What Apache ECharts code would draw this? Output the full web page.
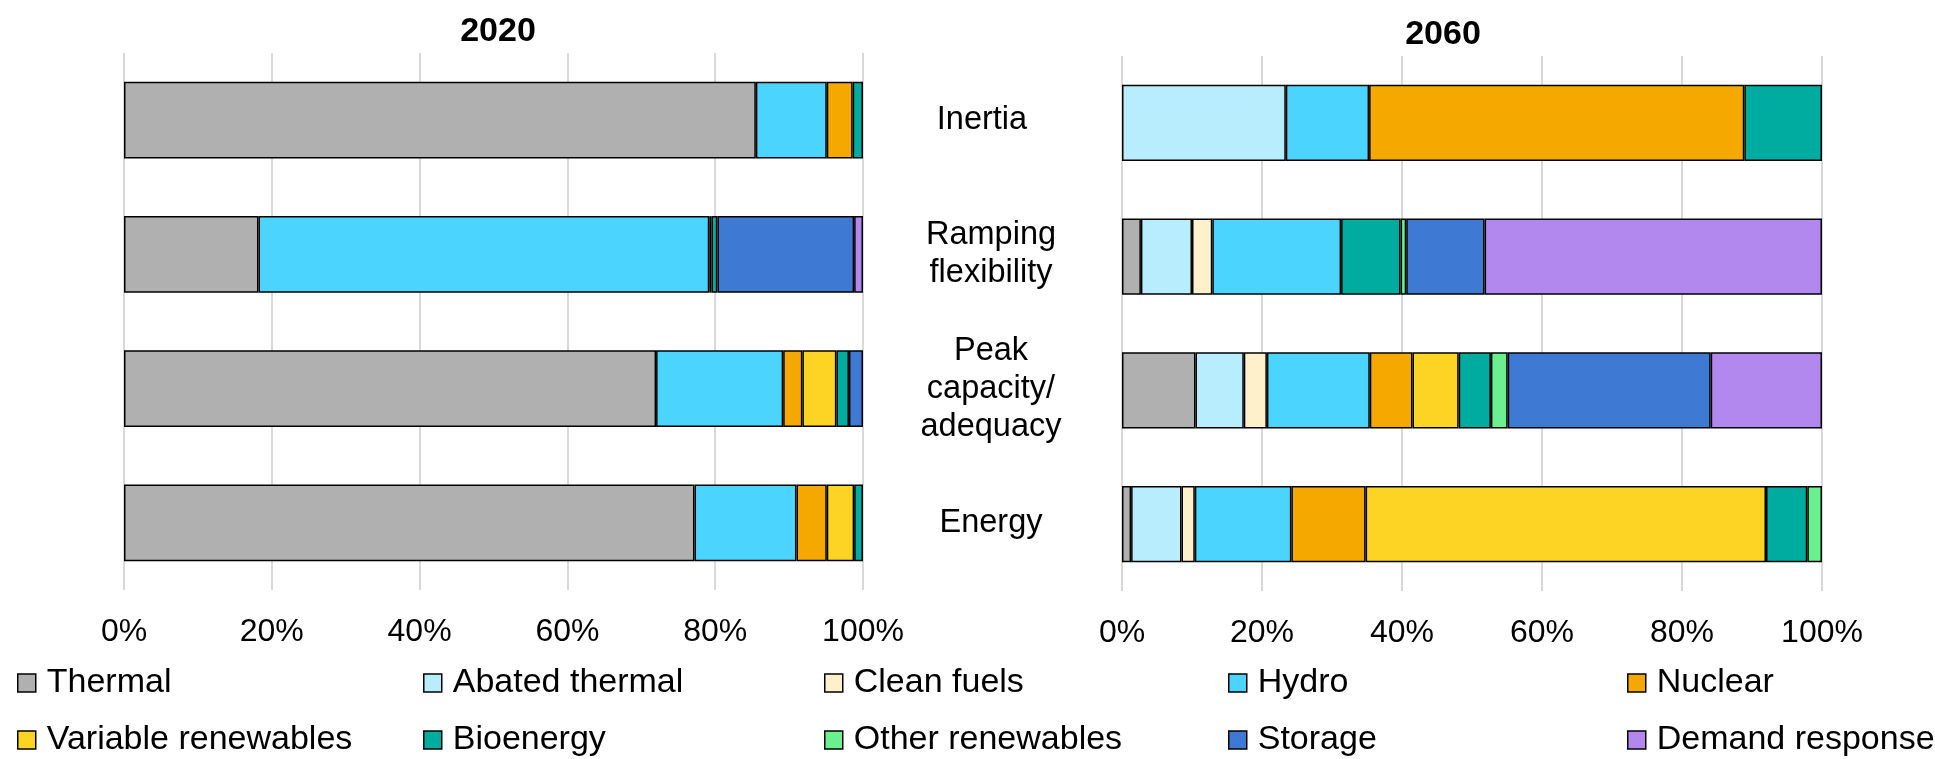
<!DOCTYPE html>
<html>
<head>
<meta charset="utf-8">
<title>Contribution of resources to system services, 2020 and 2060</title>
<script src="https://cdn.jsdelivr.net/npm/echarts@6/dist/echarts.min.js"></script>
<style>
  html, body { margin: 0; padding: 0; background: #ffffff; }
  #chart { width: 1935px; height: 759px; }
</style>
</head>
<body>
<div id="chart"></div>
<script>
// System services (rows), top to bottom
const services = ['Inertia  ', 'Ramping\nflexibility', 'Peak\ncapacity/\nadequacy', 'Energy'];

// Resource types in stacking order
const resources = ['Thermal', 'Abated thermal', 'Clean fuels', 'Hydro', 'Nuclear',
  'Variable renewables', 'Bioenergy', 'Other renewables', 'Storage', 'Demand response'];

const resourceColors = ['#b0b0b0', '#b8edfe', '#fff0cc', '#4bd4fe', '#f5a900',
  '#fdd424', '#00ac9f', '#6bf08f', '#3e7ad4', '#b388ee'];

// Shares (%) per service, order: Inertia, Ramping, Peak, Energy
const thermal2020      = [85.5, 18.2, 72.0, 77.2];
const abated2020       = [null, null, null, null];
const cleanFuels2020   = [null, null, null, null];
const hydro2020        = [9.6, 61.0, 17.2, 13.8];
const nuclear2020      = [3.5, 0.3, 2.6, 4.1];
const variableRe2020   = [null, null, 4.6, 3.7];
const bioenergy2020    = [1.4, 0.8, 1.7, 1.2];
const otherRe2020      = [null, null, null, null];
const storage2020      = [null, 18.5, 1.9, null];
const demandResp2020   = [null, 1.2, null, null];

const thermal2060      = [null, 2.7, 10.5, 1.3];
const abated2060       = [23.4, 7.3, 6.9, 7.2];
const cleanFuels2060   = [null, 2.9, 3.3, 1.9];
const hydro2060        = [11.9, 18.4, 14.7, 13.8];
const nuclear2060      = [53.6, null, 6.1, 10.6];
const variableRe2060   = [null, null, 6.6, 57.2];
const bioenergy2060    = [11.1, 8.5, 4.6, 5.9];
const otherRe2060      = [null, 0.8, 2.4, 2.1];
const storage2060      = [null, 11.2, 29.0, null];
const demandResp2060   = [null, 48.2, 15.9, null];

// Percentage axis ticks
const percentTicks = [0, 20, 40, 60, 80, 100];

const data2020 = [thermal2020, abated2020, cleanFuels2020, hydro2020, nuclear2020,
  variableRe2020, bioenergy2020, otherRe2020, storage2020, demandResp2020];
const data2060 = [thermal2060, abated2060, cleanFuels2060, hydro2060, nuclear2060,
  variableRe2060, bioenergy2060, otherRe2060, storage2060, demandResp2060];

const FONT = "'Liberation Sans', Arial, Helvetica, sans-serif";

function valueAxis(gridIndex) {
  return {
    type: 'value', gridIndex: gridIndex,
    min: percentTicks[0], max: percentTicks[percentTicks.length - 1],
    interval: percentTicks[1] - percentTicks[0],
    axisLine: { show: false }, axisTick: { show: false },
    splitLine: { show: true, lineStyle: { color: '#d9d9d9', width: 2 } },
    axisLabel: { formatter: '{value}%', fontFamily: FONT, fontSize: 32, color: '#000', margin: 26 }
  };
}

function buildSeries(values, stack, axisIndex) {
  return resources.map((name, i) => ({
    name: name,
    type: 'bar',
    stack: stack,
    xAxisIndex: axisIndex,
    yAxisIndex: axisIndex,
    barCategoryGap: '43%',
    data: values[i],
    itemStyle: { color: resourceColors[i], borderColor: '#000', borderWidth: 1.5 },
    emphasis: { disabled: true }
  }));
}

// Legend laid out on a 5-column, 2-row grid
const legendCols = [17, 423, 824, 1228, 1627];
const legendRows = [666, 723];
const legends = resources.map((name, i) => ({
  data: [name],
  left: legendCols[i % 5],
  top: legendRows[Math.floor(i / 5)],
  padding: 0,
  itemWidth: 18,
  itemHeight: 18,
  icon: 'rect',
  selectedMode: false,
  itemStyle: { borderColor: '#000', borderWidth: 1.5 },
  textStyle: { fontFamily: FONT, fontSize: 34, color: '#000', padding: [0, 0, 0, 6] }
}));

const chart = echarts.init(document.getElementById('chart'), null, { renderer: 'canvas' });
chart.setOption({
  animation: false,
  backgroundColor: '#ffffff',
  title: [
    { text: '2020', left: 493, top: 10, textAlign: 'center',
      textStyle: { fontFamily: FONT, fontSize: 34, fontWeight: 'bold', color: '#000' } },
    { text: '2060', left: 1438, top: 13, textAlign: 'center',
      textStyle: { fontFamily: FONT, fontSize: 34, fontWeight: 'bold', color: '#000' } }
  ],
  legend: legends,
  grid: [
    { left: 124, right: 1935 - 863, top: 53, height: 537 },
    { left: 1122, right: 1935 - 1822, top: 56, height: 535 }
  ],
  xAxis: [valueAxis(0), valueAxis(1)],
  yAxis: [
    { type: 'category', gridIndex: 0, data: services, inverse: true, position: 'right',
      axisLine: { show: false }, axisTick: { show: false },
      axisLabel: { fontFamily: FONT, fontSize: 32.5, color: '#000', align: 'center',
        margin: 128, lineHeight: 38 } },
    { type: 'category', gridIndex: 1, data: services, inverse: true,
      axisLine: { show: false }, axisTick: { show: false }, axisLabel: { show: false } }
  ],
  series: buildSeries(data2020, 'y2020', 0).concat(buildSeries(data2060, 'y2060', 1))
});
</script>
</body>
</html>
